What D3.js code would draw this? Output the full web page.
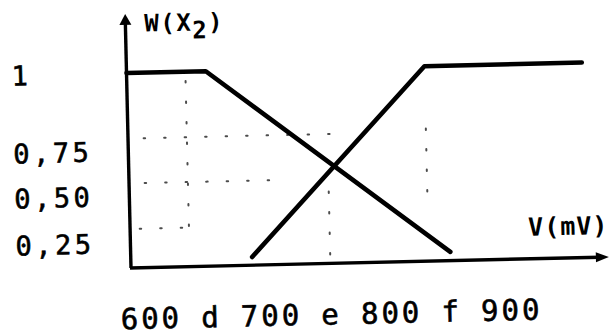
<!DOCTYPE html>
<html>
<head>
<meta charset="utf-8">
<script src="https://cdn.jsdelivr.net/npm/d3@7"></script>
<style>
  html, body { margin: 0; padding: 0; background: #fff; }
  svg { display: block; }
  text { font-family: "DejaVu Sans Mono", "Liberation Mono", monospace; fill: #000; }
</style>
</head>
<body>
<svg id="chart" width="613" height="335"></svg>
<script>
// ---- data ----
const xTickValues = [600, 650, 700, 750, 800, 850, 900];
const xTickLabels = ["600", "d", "700", "e", "800", "f", "900"];
const yTickValues = [1, 0.75, 0.5, 0.25];
const yTickLabels = ["1", "0,75", "0,50", "0,25"];

// falling membership line (V in mV, W)
const fallingV = [584, 650, 850];
const fallingW = [1, 1, 0.087];
// rising membership line
const risingV = [685, 832, 963];
const risingW = [0.082, 1, 1];

// faint dotted guides: horizontal [W, V from, V to], vertical [V, W from, W to]
const guideH = [[0.79, 597, 752], [0.57, 597, 712], [0.325, 592, 634]];
const guideV = [[633, 0.97, 0.33], [750, 0.5, 0.03], [832, 0.8, 0.45]];

const axisV = [584, 981];
const axisW = [0, 1.18];
const yTitle = "W(X";
const ySub = "2";
const xTitle = "V(mV)";

// ---- drawing ----
const svg = d3.select("#chart");
svg.append("rect").attr("width", 613).attr("height", 335).attr("fill", "#fff");

const g = svg.append("g").attr("transform", "translate(131,268) rotate(-1.32)");

const x = d3.scaleLinear().domain(axisV).range([0, 477]);
const y = d3.scaleLinear().domain([0, 0.25, 0.5, 0.75, 1]).range([0, -25, -72, -117, -195]);

// guides (sparse specks)
const gd = g.append("g").attr("stroke", "#111").attr("stroke-width", 2)
  .attr("stroke-dasharray", "1.5,19").attr("stroke-linecap", "round").attr("opacity", 0.75);
guideH.forEach(d => gd.append("line")
  .attr("x1", x(d[1])).attr("x2", x(d[2])).attr("y1", y(d[0])).attr("y2", y(d[0])));
guideV.forEach(d => gd.append("line")
  .attr("x1", x(d[0])).attr("x2", x(d[0])).attr("y1", y(d[1])).attr("y2", y(d[2])));

// axes
const ax = g.append("g").attr("stroke", "#000").attr("stroke-width", 3.4).attr("fill", "none");
ax.append("line").attr("x1", x(axisV[0])).attr("x2", x(axisV[0]))
  .attr("y1", y(axisW[0])).attr("y2", y(axisW[1]) + 6);
ax.append("line").attr("x1", x(axisV[0]) - 1).attr("x2", x(axisV[1]) - 8)
  .attr("y1", y(0)).attr("y2", y(0));
// arrow heads
const yTop = y(axisW[1]);
g.append("path").attr("fill", "#000")
  .attr("d", `M${x(axisV[0])},${yTop - 3} L${x(axisV[0]) - 6},${yTop + 8} L${x(axisV[0]) + 6},${yTop + 8} Z`);
const xEnd = x(axisV[1]);
g.append("path").attr("fill", "#000")
  .attr("d", `M${xEnd + 1},${y(0)} L${xEnd - 12},${y(0) - 5} L${xEnd - 12},${y(0) + 5} Z`);

// membership lines
const line = d3.line().x(d => x(d[0])).y(d => y(d[1]));
g.append("path").datum(fallingV.map((v, i) => [v, fallingW[i]]))
  .attr("d", line).attr("fill", "none").attr("stroke", "#000")
  .attr("stroke-width", 4.6).attr("stroke-linejoin", "round").attr("stroke-linecap", "round");
g.append("path").datum(risingV.map((v, i) => [v, risingW[i]]))
  .attr("d", line).attr("fill", "none").attr("stroke", "#000")
  .attr("stroke-width", 4.6).attr("stroke-linejoin", "round").attr("stroke-linecap", "round");

// y tick labels
g.selectAll("text.ylab").data(yTickValues).join("text")
  .attr("class", "ylab")
  .attr("x", -115).attr("y", d => y(d)).attr("dy", "0.36em")
  .attr("font-size", 27).attr("letter-spacing", 3.5)
  .attr("stroke", "#000").attr("stroke-width", 0.6)
  .text((d, i) => yTickLabels[i]);

// x tick labels
g.selectAll("text.xlab").data(xTickValues).join("text")
  .attr("class", "xlab")
  .attr("x", d => x(d)).attr("y", 61).attr("text-anchor", "middle")
  .attr("font-size", 29).attr("letter-spacing", 3)
  .attr("stroke", "#000").attr("stroke-width", 0.6)
  .text((d, i) => xTickLabels[i]);

// axis titles
const t = g.append("text").attr("x", 19).attr("y", -236)
  .attr("font-size", 24).attr("font-weight", "bold").attr("letter-spacing", 1.5);
t.append("tspan").text(yTitle);
t.append("tspan").attr("dy", 8).text(ySub);
t.append("tspan").attr("dy", -8).text(")");

g.append("text").attr("x", 398).attr("y", -23)
  .attr("font-size", 25).attr("font-weight", "bold").attr("letter-spacing", 1)
  .text(xTitle);
</script>
</body>
</html>
